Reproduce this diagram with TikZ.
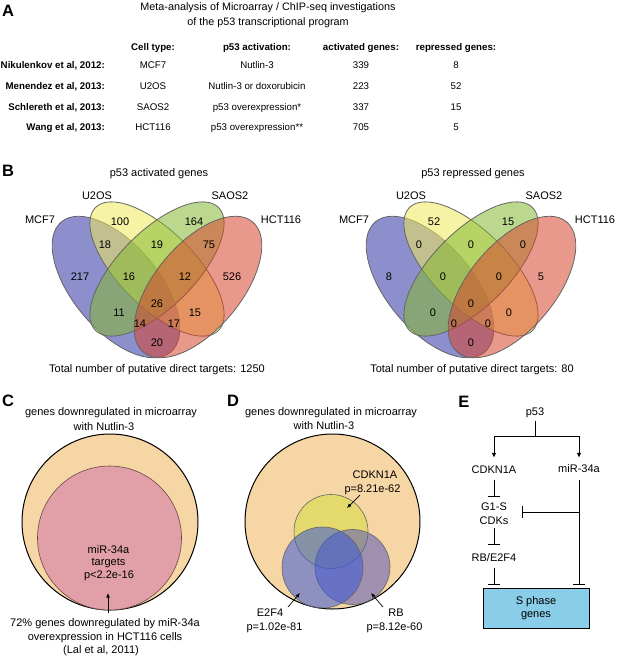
\documentclass[tikz,border=0pt]{standalone}
\usepackage{fontspec}
\setmainfont{Liberation Sans}
\usetikzlibrary{arrows.meta,calc}
\definecolor{vblue}{RGB}{46,51,162}
\definecolor{vyellow}{RGB}{239,233,91}
\definecolor{vgreen}{RGB}{133,184,50}
\definecolor{vred}{RGB}{215,68,46}
\definecolor{vedge}{RGB}{100,100,100}
\definecolor{peach}{RGB}{246,214,165}
\definecolor{pinkc}{RGB}{225,160,168}
\definecolor{pinkedge}{RGB}{110,70,70}
\definecolor{cdkyel}{RGB}{227,217,108}
\definecolor{e2fblue}{RGB}{57,89,215}
\definecolor{rbpurp}{RGB}{90,88,186}
\definecolor{sbox}{RGB}{138,205,233}
\begin{document}
\begin{tikzpicture}[x=1pt,y=-1pt,
  txt/.style={inner sep=0pt, text height=7.9pt, text depth=0pt, font=\fontsize{11}{13}\selectfont},
  tab/.style={inner sep=0pt, text height=6.9pt, text depth=0pt, font=\fontsize{9.7}{11}\selectfont},
  tabb/.style={inner sep=0pt, text height=6.9pt, text depth=0pt, font=\fontsize{9.7}{11}\selectfont\bfseries},
  ttl/.style={inner sep=0pt, text height=7.7pt, text depth=0pt, font=\fontsize{10.8}{13}\selectfont},
  plabel/.style={inner sep=0pt, text height=11.8pt, text depth=0pt, font=\fontsize{16.5}{18}\selectfont\bfseries},
  ven/.style={draw=vedge, line width=0.8pt, fill opacity=0.55},
  eline/.style={line width=1pt},
  earrow/.style={line width=1pt, -{Latex[length=5pt,width=4.5pt]}},
  ebar/.style={line width=1pt, -{Bar[width=12pt,line width=1pt]}},
  darrow/.style={line width=0.7pt, -{Latex[length=4.5pt,width=3.8pt]}},
]
\useasboundingbox (0,0) rectangle (617,657);

% ---------------- Panel A ----------------
\node[plabel] (labA) at (8,11) {A};
\node[ttl] (titA1) at (268,7) {Meta-analysis of Microarray / ChIP-seq investigations};
\node[ttl] (titA2) at (268,22) {of the p53 transcriptional program};

\node[tabb] (h1) at (153,47) {Cell type:};
\node[tabb] (h2) at (257,47) {p53 activation:};
\node[tabb] (h3) at (361,47) {activated genes:};
\node[tabb] (h4) at (456,47) {repressed genes:};

\foreach \yy/\nm/\ct/\act/\ag/\rg [count=\k] in {
  65/{Nikulenkov et al, 2012:}/MCF7/Nutlin-3/339/8,
  86/{Menendez et al, 2013:}/U2OS/{Nutlin-3 or doxorubicin}/223/52,
  107/{Schlereth et al, 2013:}/SAOS2/{p53 overexpression*}/337/15,
  127/{Wang et al, 2013:}/HCT116/{p53 overexpression**}/705/5}{
  \node[tabb, anchor=east] (n\k) at (105,\yy) {\nm};
  \node[tab] (c\k) at (153,\yy) {\ct};
  \node[tab] (p\k) at (257,\yy) {\act};
  \node[tab] (a\k) at (361,\yy) {\ag};
  \node[tab] (r\k) at (456,\yy) {\rg};
}

% ---------------- Panel B ----------------
\node[plabel] (labB) at (8,171) {B};
\node[txt] (titB1) at (159,173) {p53 activated genes};
\node[txt] (titB2) at (473,173) {p53 repressed genes};

\foreach \cx/\pre in {157/L, 471/R}{
  \begin{scope}[shift={(\cx,0)}]
    \draw[ven, fill=vblue, rotate around={-50:(-41,287)}] (-41,287) ellipse (85 and 43);
    \draw[ven, fill=vyellow, rotate around={-45:(0,269)}] (0,269) ellipse (87 and 38);
    \draw[ven, fill=vgreen, rotate around={45:(0,269)}] (0,269) ellipse (87 and 38);
    \draw[ven, fill=vred, rotate around={50:(41,287)}] (41,287) ellipse (85 and 43);
    \node[txt] (\pre mcf) at (-117,220) {MCF7};
    \node[txt] (\pre u2os) at (-60,196) {U2OS};
    \node[txt] (\pre saos) at (73,196) {SAOS2};
    \node[txt] (\pre hct) at (124,220) {HCT116};
  \end{scope}
}

\begin{scope}[shift={(157,0)}]
  \foreach \px/\py/\t [count=\k] in {-37/222/100, 37/222/164, -52/245/18, 0/245/19, 52/245/75,
     -77/277/217, -28/277/16, 28/277/12, 75/277/526, 0/304/26, -38/313/11, 38/313/15,
     -17/324/14, 17/324/17, 0/343/20}
    \node[txt] (Lnum\k) at (\px,\py) {\t};
\end{scope}
\begin{scope}[shift={(471,0)}]
  \foreach \px/\py/\t [count=\k] in {-37/222/52, 37/222/15, -52/245/0, 0/245/0, 52/245/0,
     -82/277/8, -28/277/0, 28/277/0, 70/277/5, 0/304/0, -38/313/0, 38/313/0,
     -17/324/0, 17/324/0, 0/343/0}
    \node[txt] (Rnum\k) at (\px,\py) {\t};
\end{scope}

\node[txt] (totL) at (157,369) {Total number of putative direct targets: 1250};
\node[txt] (totR) at (472,369) {Total number of putative direct targets: 80};

% ---------------- Panel C ----------------
\node[plabel] (labC) at (8,401) {C};
\node[txt] (cT1) at (111,412) {genes downregulated in microarray};
\node[txt] (cT2) at (104,427) {with Nutlin-3};
\node[circle, draw=black, line width=1pt, fill=peach, minimum size=176pt, inner sep=0pt] (cout) at (110,522) {};
\node[circle, draw=pinkedge, line width=0.6pt, fill=pinkc, minimum size=144pt, inner sep=0pt] (cin) at (109.5,538) {};
\node[txt] (cM1) at (108.5,550) {miR-34a};
\node[txt] (cM2) at (108.5,562) {targets};
\node[txt] (cM3) at (109,575) {p<2.2e-16};
\coordinate (cTail) at (108,613);
\coordinate (cHead) at (108,593);
\draw[darrow] (cTail) -- (cHead);
\node[txt] (cB1) at (105,623) {72\% genes downregulated by miR-34a};
\node[txt] (cB2) at (105,637) {overexpression in HCT116 cells};
\node[txt] (cB3) at (101,650) {(Lal et al, 2011)};

% ---------------- Panel D ----------------
\node[plabel] (labD) at (233,401) {D};
\node[txt] (dT1) at (331,412) {genes downregulated in microarray};
\node[txt] (dT2) at (324,426) {with Nutlin-3};
\node[circle, draw=black, line width=1pt, fill=peach, minimum size=175pt, inner sep=0pt] (dout) at (332.5,521.5) {};
\node[circle, draw=vedge, line width=0.6pt, fill=cdkyel, minimum size=74pt, inner sep=0pt] (dcdk) at (331,531.5) {};
\node[circle, draw=vedge, line width=0.6pt, fill=rbpurp, fill opacity=0.55, minimum size=75pt, inner sep=0pt] (drb) at (352.5,567) {};
\node[circle, draw=vedge, line width=0.6pt, fill=e2fblue, fill opacity=0.55, minimum size=81pt, inner sep=0pt] (de2f) at (322.5,567.5) {};
\node[txt] (dC1) at (375,475) {CDKN1A};
\node[txt] (dC2) at (372.5,489) {p=8.21e-62};
\node[txt] (dE1) at (270,613) {E2F4};
\node[txt] (dE2) at (274.5,627) {p=1.02e-81};
\node[txt] (dR1) at (396,613) {RB};
\node[txt] (dR2) at (394.5,627) {p=8.12e-60};
\coordinate (dCt) at (360,495); \coordinate (dCh) at (347,508);
\coordinate (dEt) at (288,607); \coordinate (dEh) at (300,593);
\coordinate (dRt) at (383,607); \coordinate (dRh) at (371,593);
\draw[darrow] (dCt) -- (dCh);
\draw[darrow] (dEt) -- (dEh);
\draw[darrow] (dRt) -- (dRh);

% ---------------- Panel E ----------------
\node[plabel] (labE) at (464,402) {E};
\node[txt] (ep53) at (535,412) {p53};
\node[txt] (ecdk) at (494,470) {CDKN1A};
\node[txt] (emir) at (579,469) {miR-34a};
\node[txt] (eg1) at (494,507) {G1-S};
\node[txt] (ecdks) at (494,521) {CDKs};
\node[txt] (erb) at (494,558) {RB/E2F4};
\node[draw=black, line width=1pt, fill=sbox, minimum width=106pt, minimum height=40pt, inner sep=0pt,
      align=center, font=\fontsize{11}{13}\selectfont] (ebox) at (536,608) {S phase\\genes};
\coordinate (ejM) at (535,436);
\coordinate (ejL) at (494,436);
\coordinate (ejR) at (579,436);
\coordinate (ebr) at (579,512);
\coordinate (ebrEnd) at (522,512);
\draw[eline] ([yshift=-5pt]ep53.south) -- (ejM);
\draw[eline] (ejL) -- (ejR);
\draw[earrow] (ejL) -- ([yshift=8pt]ecdk.north);
\draw[earrow] (ejR) -- ([yshift=7pt]emir.north);
\draw[ebar] ([yshift=-6pt]ecdk.south) -- ([yshift=6pt]eg1.north);
\draw[ebar] ([yshift=-3pt]ecdks.south) -- ([yshift=9pt]erb.north);
\draw[ebar] ([yshift=-6pt]erb.south) -- ([yshift=3pt]ebox.north -| erb);
\draw[ebar] ([yshift=-7pt]emir.south) -- ([yshift=3pt]ebox.north -| emir);
\draw[ebar] (ebr) -- (ebrEnd);
\end{tikzpicture}
\end{document}
